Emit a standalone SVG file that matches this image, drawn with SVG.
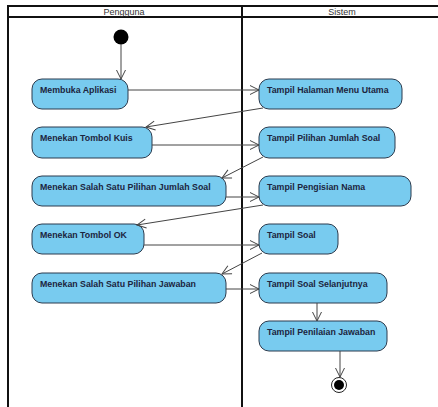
<svg xmlns="http://www.w3.org/2000/svg" width="438" height="407" viewBox="0 0 438 407">
<defs>
<marker id="open" markerWidth="12" markerHeight="12" refX="10" refY="6" orient="auto" markerUnits="userSpaceOnUse">
<path d="M1,1.5 L10,6 L1,10.5" fill="none" stroke="#444" stroke-width="1"/>
</marker>
<style>
.lane{fill:none;stroke:#111;stroke-width:2}
.hdr{font-family:"Liberation Sans",Arial,sans-serif;font-size:9px;fill:#333;text-anchor:middle}
.act rect{fill:#78CBEF;stroke:#2b3b4e;stroke-width:1}
.act text{font-family:"Liberation Sans",Arial,sans-serif;font-size:8.8px;font-weight:bold;fill:#1c2540}
.edge{fill:none;stroke:#444;stroke-width:1;marker-end:url(#open)}
</style>
</defs>
<rect width="438" height="407" fill="#fff"/>
<g id="lanes">
<line class="lane" x1="8" y1="6" x2="438" y2="6" stroke-width="1.5"/>
<line class="lane" x1="8" y1="17" x2="438" y2="17"/>
<line class="lane" x1="8" y1="5" x2="8" y2="407"/>
<line class="lane" x1="242" y1="5" x2="242" y2="407"/>
<text class="hdr" x="124" y="14.5">Pengguna</text>
<text class="hdr" x="342" y="14.5">Sistem</text>
</g>
<g id="start"><circle cx="121" cy="37" r="7.5" fill="#000"/></g>
<g id="n1" class="act"><rect x="32" y="79" width="96" height="30" rx="10"/><text x="40" y="93">Membuka Aplikasi</text></g>
<g id="n2" class="act"><rect x="259" y="79" width="143" height="30" rx="10"/><text x="267" y="93">Tampil Halaman Menu Utama</text></g>
<g id="n3" class="act"><rect x="32" y="127" width="120" height="31" rx="10"/><text x="40" y="141">Menekan Tombol Kuis</text></g>
<g id="n4" class="act"><rect x="259" y="127" width="136" height="31" rx="10"/><text x="267" y="141">Tampil Pilihan Jumlah Soal</text></g>
<g id="n5" class="act"><rect x="32" y="176" width="194" height="30" rx="10"/><text x="40" y="190">Menekan Salah Satu Pilihan Jumlah Soal</text></g>
<g id="n6" class="act"><rect x="259" y="176" width="152" height="30" rx="10"/><text x="267" y="190">Tampil Pengisian Nama</text></g>
<g id="n7" class="act"><rect x="32" y="224" width="112" height="30" rx="10"/><text x="40" y="238">Menekan Tombol OK</text></g>
<g id="n8" class="act"><rect x="259" y="224" width="79" height="30" rx="10"/><text x="267" y="238">Tampil Soal</text></g>
<g id="n9" class="act"><rect x="32" y="273" width="194" height="30" rx="10"/><text x="40" y="287">Menekan Salah Satu Pilihan Jawaban</text></g>
<g id="n10" class="act"><rect x="259" y="273" width="128" height="30" rx="10"/><text x="267" y="287">Tampil Soal Selanjutnya</text></g>
<g id="n11" class="act"><rect x="259" y="321" width="128" height="30" rx="10"/><text x="267" y="335">Tampil Penilaian Jawaban</text></g>
<g id="end"><circle cx="339" cy="385" r="7.5" fill="#fff" stroke="#222" stroke-width="1"/><circle cx="339" cy="385" r="5" fill="#000"/></g>
<g id="connectors">
<line class="edge" x1="121" y1="44" x2="121" y2="79"/>
<line class="edge" x1="128" y1="90" x2="259" y2="90"/>
<line class="edge" x1="263" y1="108" x2="146" y2="127"/>
<line class="edge" x1="152" y1="145" x2="259" y2="145"/>
<line class="edge" x1="263" y1="157" x2="222" y2="178"/>
<line class="edge" x1="226" y1="197" x2="259" y2="197"/>
<line class="edge" x1="263" y1="205" x2="137" y2="225"/>
<line class="edge" x1="144" y1="245" x2="259" y2="245"/>
<line class="edge" x1="262" y1="253" x2="222" y2="274"/>
<line class="edge" x1="226" y1="289" x2="259" y2="289"/>
<line class="edge" x1="317" y1="303" x2="317" y2="321"/>
<line class="edge" x1="340" y1="351" x2="340" y2="377"/>
</g>
</svg>
